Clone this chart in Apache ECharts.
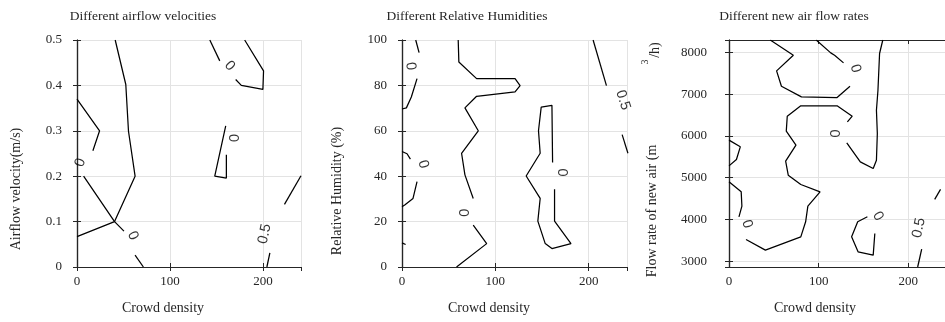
<!DOCTYPE html>
<html>
<head>
<meta charset="utf-8">
<script src="https://cdn.jsdelivr.net/npm/echarts@6.0.0/dist/echarts.min.js"></script>
<style>
  html, body { margin: 0; padding: 0; background: #fff; }
  #chart { width: 945px; height: 322px; }
</style>
</head>
<body>
<div id="chart"></div>
<script>
// ---- shared x axis: crowd density ----
const densityMin = 0;
const densityMax = 241;
const densityStep = 100;

// ---- panel 1: airflow velocity (m/s) ----
const velocityRange = [0, 0.5];
const velocityStep = 0.1;
const velocityContours = [
  [[41.1, 0.5], [52.5, 0.402], [55.4, 0.299], [62.5, 0.2], [40.4, 0.1], [0, 0.067]],
  [[0, 0.37], [24.3, 0.3], [17.1, 0.256]],
  [[7.1, 0.2], [40.4, 0.1], [50.5, 0.079]],
  [[62.5, 0.026], [71.4, 0]],
  [[142.9, 0.5], [153.6, 0.454]],
  [[170.7, 0.413], [176.8, 0.4], [200, 0.391], [200.7, 0.432], [180.4, 0.5]],
  [[160, 0.311], [148.2, 0.2], [160.7, 0.196], [160.7, 0.247]],
  [[223.2, 0.138], [241, 0.201]],
  [[207.5, 0.031], [204.3, 0]]
];
const velocityLabels = [
  [3.6, 0.23, '0'],
  [60, 0.069, '0'],
  [164.3, 0.443, '0'],
  [169.6, 0.284, '0'],
  [202, 0.073, '0.5']
];
const velocityLabelAngles = [70, -65, -49, 90, 78];

// ---- panel 2: relative humidity (%) ----
const humidityRange = [0, 100];
const humidityStep = 20;
const humidityContours = [
  [[14.7, 100], [18.3, 94.4]],
  [[16.1, 83.0], [10.0, 74.9], [4.7, 70.1], [0, 69.6]],
  [[60.2, 100], [60.9, 90.3], [79.9, 83.0], [121.1, 83.0], [126.5, 79.9], [121.1, 77.1],
   [79.9, 75.2], [67.4, 70.1], [81.7, 60.0], [63.8, 50.1], [67.4, 40.6], [76.3, 30.2]],
  [[76.3, 18.4], [90.7, 10.3], [58.4, 0]],
  [[0, 50.9], [5.4, 49.9], [9.0, 47.5]],
  [[16.1, 37.6], [11.8, 30.2], [2.9, 27.3], [0, 26.5]],
  [[0, 10.6], [3.9, 9.9]],
  [[161.3, 46.0], [160.6, 71.2], [149.1, 70.4], [146.2, 60.0], [148.0, 50.1], [133.0, 40.1],
   [148.0, 30.2], [145.5, 20.2], [153.4, 10.3], [160.6, 8.1], [181.0, 10.3], [163.4, 20.2], [163.4, 34.2]],
  [[204.7, 100], [219.0, 79.9]],
  [[235.8, 58.3], [242, 50.1]]
];
const humidityLabels = [
  [9.3, 88.5, '0'],
  [22.6, 45.3, '0'],
  [67.4, 23.9, '0'],
  [173.1, 41.6, '0'],
  [236.6, 73.5, '0.5']
];
const humidityLabelAngles = [-85, -74, 90, 90, -72];

// ---- panel 3: flow rate of new air (m3/h) ----
const flowRange = [2860, 8300];
const flowContours = [
  [[46.0, 8300], [71.8, 7936], [53.1, 7561], [58.5, 7193], [80.8, 6938], [120.6, 6922], [135.0, 7193]],
  [[127.8, 7752], [117.8, 7936], [113.5, 7992], [97.3, 8300]],
  [[0, 4901], [13.6, 4661], [14.4, 4318], [11.1, 4062]],
  [[19.0, 3519], [40.6, 3264], [80.1, 3583], [85.5, 3943], [88.0, 4318], [101.6, 4661], [80.1, 4837],
   [66.1, 5061], [63.2, 5396], [74.7, 5780], [63.9, 6115], [65.0, 6474], [80.1, 6722], [120.6, 6722],
   [137.5, 6474], [132.1, 6339]],
  [[131.4, 5836], [146.5, 5380], [160.9, 5220], [164.5, 5420], [165.5, 6059], [164.5, 6618],
   [166.2, 7097], [168.0, 7976], [171.6, 8300]],
  [[0, 5900], [12.6, 5740], [8.3, 5436], [0, 5284]],
  [[162.7, 3663], [160.9, 3144], [144.0, 3224], [136.8, 3583], [143.6, 3943], [154.4, 4063]],
  [[215, 3290], [210.5, 2860]],
  [[229.5, 4480], [236, 4720]]
];
const flowLabels = [
  [141.1, 7617, '0'],
  [119.6, 6059, '0'],
  [20.1, 3887, '0'],
  [166.2, 4078, '0'],
  [211.8, 3800, '0.5']
];
const flowLabelAngles = [-74, 90, -72, -60, 78];

// ---- text ----
const panelTitles = ['Different airflow velocities', 'Different Relative Humidities', 'Different new air flow rates'];
const xTitle = 'Crowd density';
const yTitles = ['Airflow velocity(m/s)', 'Relative Humidity (%)', 'Flow rate of new air (m'];
const unitSup = '3';
const unitTail = '/h)';

// ---- layout ----
const frameColor = '#262626';
const gridColor = '#e3e3e3';
const serif = '"Liberation Serif", "Times New Roman", serif';
const sans = '"Liberation Sans", Arial, sans-serif';
const grids = [
  { left: 77, top: 40, width: 224, height: 227 },
  { left: 402, top: 40, width: 225, height: 227 },
  { left: 729, top: 40, width: 224, height: 227 }
];

const panels = [
  { contours: velocityContours, labels: velocityLabels, angles: velocityLabelAngles,
    yMin: velocityRange[0], yMax: velocityRange[1], yStep: velocityStep, yMargin: 15 },
  { contours: humidityContours, labels: humidityLabels, angles: humidityLabelAngles,
    yMin: humidityRange[0], yMax: humidityRange[1], yStep: humidityStep, yMargin: 15 },
  { contours: flowContours, labels: flowLabels, angles: flowLabelAngles,
    yMin: flowRange[0], yMax: flowRange[1], yStep: null, yMargin: 22 }
];

// plain numbers, no thousands separators
const plainNumber = v => String(Math.round(v * 1e6) / 1e6);

const xAxes = [], yAxes = [], series = [];

panels.forEach((p, i) => {
  const base = {
    type: 'value',
    gridIndex: i,
    axisLine: { show: true, lineStyle: { color: frameColor, width: 1.2 } },
    axisTick: { show: true, inside: true, length: 4, lineStyle: { color: frameColor } }
  };
  // bottom x axis with labels
  xAxes.push(Object.assign({}, base, {
    position: 'bottom', min: densityMin, max: densityMax, interval: densityStep,
    axisLabel: { show: true, fontFamily: serif, fontSize: 13, color: frameColor, margin: 8,
                 showMaxLabel: false, formatter: plainNumber },
    splitLine: { show: true, lineStyle: { color: gridColor, width: 1 } }
  }));
  // top x axis closes the box
  xAxes.push(Object.assign({}, base, {
    position: 'top', min: densityMin, max: densityMax, interval: densityStep,
    axisLabel: { show: false }, splitLine: { show: false }
  }));
  const yCommon = { min: p.yMin, max: p.yMax };
  if (p.yStep) yCommon.interval = p.yStep; else yCommon.splitNumber = 5;
  yAxes.push(Object.assign({}, base, yCommon, {
    position: 'left',
    axisLabel: { show: true, fontFamily: serif, fontSize: 13, color: frameColor, margin: p.yMargin,
                 showMinLabel: p.yStep ? true : false, showMaxLabel: p.yStep ? true : false,
                 formatter: plainNumber },
    splitLine: { show: true, lineStyle: { color: gridColor, width: 1 } }
  }));
  yAxes.push(Object.assign({}, base, yCommon, {
    position: 'right',
    axisLabel: { show: false }, splitLine: { show: false }
  }));

  p.contours.forEach(line => {
    series.push({
      type: 'line',
      xAxisIndex: 2 * i, yAxisIndex: 2 * i,
      data: line,
      symbol: 'none',
      clip: true,
      silent: true,
      lineStyle: { color: '#000', width: 1.25 }
    });
  });

  series.push({
    type: 'scatter',
    xAxisIndex: 2 * i, yAxisIndex: 2 * i,
    symbolSize: 0,
    silent: true,
    data: p.labels.map((l, k) => ({ value: l, label: { rotate: p.angles[k] } })),
    label: {
      show: true, position: 'inside',
      formatter: prm => prm.value[2],
      fontFamily: sans, fontSize: 14.5, color: '#000'
    }
  });
});

// panel titles, axis names
const titleX = [143, 467, 794];
const xNameX = [163, 489, 815];
const yNamePos = [[16, 189], [337, 191], [652, 211]];
const graphics = [];
panelTitles.forEach((t, i) => {
  graphics.push({ type: 'text', x: titleX[i], y: 16,
    style: { text: t, font: '13.5px ' + serif, fill: '#262626', align: 'center', verticalAlign: 'middle',
             textAlign: 'center', textVerticalAlign: 'middle' } });
  graphics.push({ type: 'text', x: xNameX[i], y: 308,
    style: { text: xTitle, font: '14px ' + serif, fill: '#262626', align: 'center', verticalAlign: 'middle',
             textAlign: 'center', textVerticalAlign: 'middle' } });
  graphics.push({ type: 'text', x: yNamePos[i][0], y: yNamePos[i][1], rotation: Math.PI / 2,
    style: { text: yTitles[i], font: '14px ' + serif, fill: '#262626', align: 'center', verticalAlign: 'middle',
             textAlign: 'center', textVerticalAlign: 'middle' } });
});
graphics.push({ type: 'text', x: 645, y: 62, rotation: Math.PI / 2,
  style: { text: unitSup, font: '10px ' + serif, fill: '#262626', align: 'center', verticalAlign: 'middle',
           textAlign: 'center', textVerticalAlign: 'middle' } });
graphics.push({ type: 'text', x: 655, y: 50, rotation: Math.PI / 2,
  style: { text: unitTail, font: '14px ' + serif, fill: '#262626', align: 'center', verticalAlign: 'middle',
           textAlign: 'center', textVerticalAlign: 'middle' } });

const chart = echarts.init(document.getElementById('chart'), null, { renderer: 'canvas' });
chart.setOption({
  animation: false,
  backgroundColor: '#ffffff',
  grid: grids,
  xAxis: xAxes,
  yAxis: yAxes,
  series: series,
  graphic: graphics
});
</script>
</body>
</html>
